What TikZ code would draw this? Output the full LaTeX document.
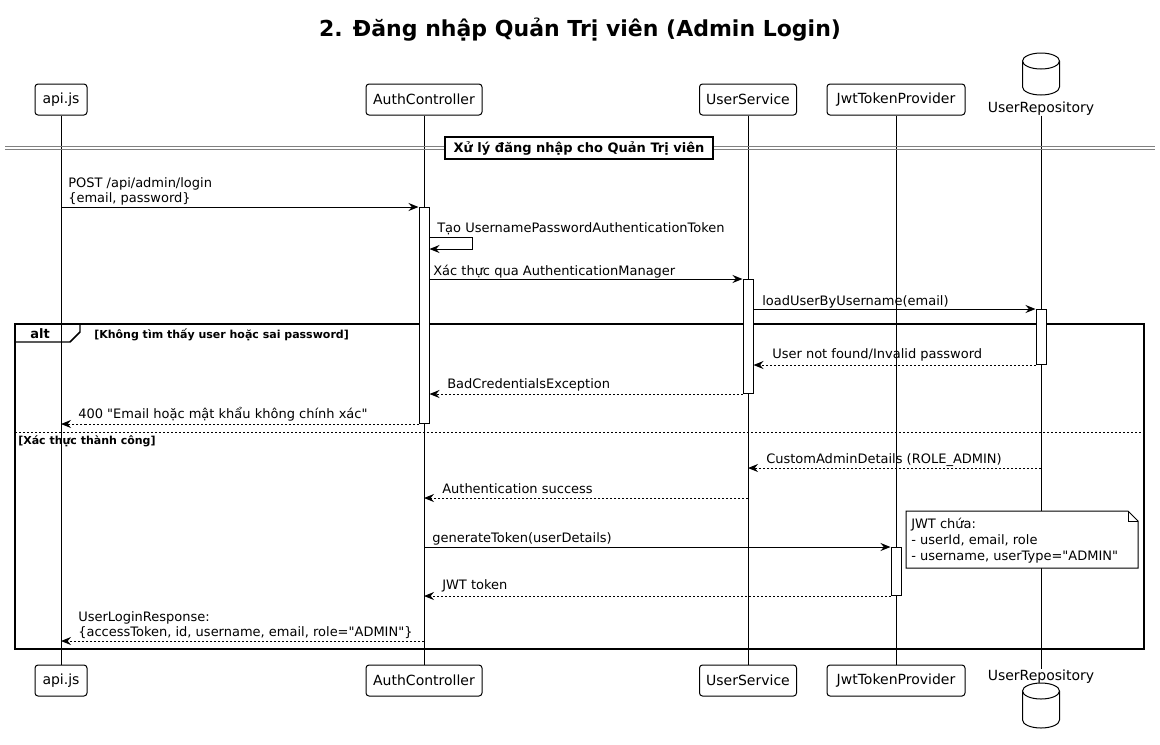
\documentclass[tikz,border=0pt]{standalone}
\usepackage{fontspec}
\setmainfont{DejaVu Sans}[Ligatures=TeXOff]
\usetikzlibrary{arrows.meta}
\begin{document}
\begin{tikzpicture}[x=0.75pt,y=-0.75pt,
  every node/.style={inner sep=0pt},
  part/.style={draw, line width=0.75pt, rounded corners=2.25pt, fill=white, minimum height=23.25pt, font=\fontsize{10.5}{12.6}\selectfont},
  plain/.style={font=\fontsize{10.5}{12.6}\selectfont},
  life/.style={line width=0.75pt},
  actbar/.style={draw, fill=white, line width=0.75pt, minimum width=7.5pt},
  msg/.style={line width=0.75pt, -{Stealth[length=7.5pt,width=6pt,inset=2.5pt]}},
  ret/.style={msg, dash pattern=on 1.5pt off 1.5pt},
  lbl/.style={font=\fontsize{9.75}{11.25}\selectfont, anchor=base west, align=left},
  guard/.style={font=\bfseries\fontsize{8.25}{10}\selectfont, anchor=base west},
  frameline/.style={line width=1.1pt},
  dbshape/.style={line width=0.75pt, fill=white},
]
\useasboundingbox (0,0) rectangle (1160,744);

% title
\node[font=\bfseries\fontsize{16.5}{20}\selectfont] (title) at (580,30) {2. Đăng nhập Quản Trị viên (Admin Login)};

% participants top
\node[part, minimum width=39pt] (api) at (61,99.5) {api.js};
\node[part, minimum width=87pt] (auth) at (424,99.5) {AuthController};
\node[part, minimum width=72.75pt] (usvc) at (748,99.5) {UserService};
\node[part, minimum width=103.5pt] (jwt) at (896,99.5) {JwtTokenProvider};
\node[plain] (repo) at (1041,108.5) {UserRepository};
% participants bottom
\node[part, minimum width=39pt] (api2) at (61,680.5) {api.js};
\node[part, minimum width=87pt] (auth2) at (424,680.5) {AuthController};
\node[part, minimum width=72.75pt] (usvc2) at (748,680.5) {UserService};
\node[part, minimum width=103.5pt] (jwt2) at (896,680.5) {JwtTokenProvider};
\node[plain] (repo2) at (1041,676.5) {UserRepository};

% database cylinders
\draw[dbshape] (1022.5,61) -- (1022.5,87) arc[start angle=180, end angle=0, x radius=18.5, y radius=8] -- (1059.5,61);
\draw[dbshape] (1041,61) ellipse [x radius=18.5, y radius=8];
\draw[dbshape] (1022.5,691) -- (1022.5,720) arc[start angle=180, end angle=0, x radius=18.5, y radius=8] -- (1059.5,691);
\draw[dbshape] (1041,691) ellipse [x radius=18.5, y radius=8];

% lifelines
\draw[life] (api.south) -- (api2.north);
\draw[life] (auth.south) -- (auth2.north);
\draw[life] (usvc.south) -- (usvc2.north);
\draw[life] (jwt.south) -- (jwt2.north);
\draw[life] (repo.south) -- (repo2.north);

% section divider
\draw[line width=0.75pt, draw=black!50] (5,146.5) -- (1155,146.5);
\draw[line width=0.75pt, draw=black!50] (5,149.5) -- (1155,149.5);
\node[draw, fill=white, line width=1.1pt, minimum width=201pt, minimum height=16.5pt, font=\bfseries\fontsize{9.75}{12}\selectfont] (sec) at (579,148) {Xử lý đăng nhập cho Quản Trị viên};

% alt frame
\draw[frameline] (15,324) rectangle (1144,649);
\draw[frameline] (15,342) -- (70,342) -- (80,332) -- (80,324);
\node[font=\bfseries\fontsize{9.75}{12}\selectfont, anchor=base west] (altlbl) at (30,338) {alt};
\node[guard] (g1) at (94,338) {[Không tìm thấy user hoặc sai password]};
\draw[line width=0.75pt, dash pattern=on 1.5pt off 1.5pt] (15,432) -- (1144,432);
\node[guard] (g2) at (18,444) {[Xác thực thành công]};

% activation bars
\node[actbar, minimum height=162pt, anchor=north] (actC) at (424,207) {};
\node[actbar, minimum height=85.5pt, anchor=north] (actS) at (748,279) {};
\node[actbar, minimum height=41.25pt, anchor=north] (actR) at (1041,309) {};
\node[actbar, minimum height=36pt, anchor=north] (actJ) at (896,547) {};

% helper coordinates
\coordinate (loopA) at (472,237);
\coordinate (loopB) at (472,249);
\coordinate (y8) at (0,468);
\coordinate (y9) at (0,498);
\coordinate (y12) at (0,641);

% messages
\draw[msg] (api.south |- actC.north) -- (actC.north west);
\node[lbl] (l1) at (68,202) {POST /api/admin/login\\\{email, password\}};

\draw[msg] (actC.east |- loopA) -- (loopA) -- (loopB) -- (actC.east |- loopB);
\node[lbl] (l2) at (437,232) {Tạo UsernamePasswordAuthenticationToken};

\draw[msg] (actC.east |- actS.north) -- (actS.north west);
\node[lbl] (l3) at (433,275) {Xác thực qua AuthenticationManager};

\draw[msg] (actS.east |- actR.north) -- (actR.north west);
\node[lbl] (l4) at (762,305) {loadUserByUsername(email)};

\draw[ret] (actR.south west) -- (actS.east |- actR.south);
\node[lbl] (l5) at (772,358) {User not found/Invalid password};

\draw[ret] (actS.south west) -- (actC.east |- actS.south);
\node[lbl] (l6) at (447,388) {BadCredentialsException};

\draw[ret] (actC.south west) -- (api.south |- actC.south);
\node[lbl] (l7) at (78,418) {400 "Email hoặc mật khẩu không chính xác"};

\draw[ret] (repo.south |- y8) -- (usvc.south |- y8);
\node[lbl] (l8) at (766,463) {CustomAdminDetails (ROLE\_ADMIN)};

\draw[ret] (usvc.south |- y9) -- (auth.south |- y9);
\node[lbl] (l9) at (442,493) {Authentication success};

\draw[msg] (auth.south |- actJ.north) -- (actJ.north west);
\node[lbl] (l10) at (432,542) {generateToken(userDetails)};

\draw[ret] (actJ.south west) -- (auth.south |- actJ.south);
\node[lbl] (l11) at (442,589) {JWT token};

\draw[ret] (auth.south |- y12) -- (api.south |- y12);
\node[lbl] (l12) at (78,636) {UserLoginResponse:\\\{accessToken, id, username, email, role="ADMIN"\}};

% note
\draw[line width=0.75pt, fill=white] (906,511) -- (1128,511) -- (1138,521) -- (1138,568) -- (906,568) -- cycle;
\draw[line width=0.75pt] (1128,511) -- (1128,521) -- (1138,521);
\node[lbl, anchor=north west, font=\fontsize{9.75}{12}\selectfont] (note) at (911,518) {JWT chứa:\\- userId, email, role\\- username, userType="ADMIN"};
\end{tikzpicture}
\end{document}
